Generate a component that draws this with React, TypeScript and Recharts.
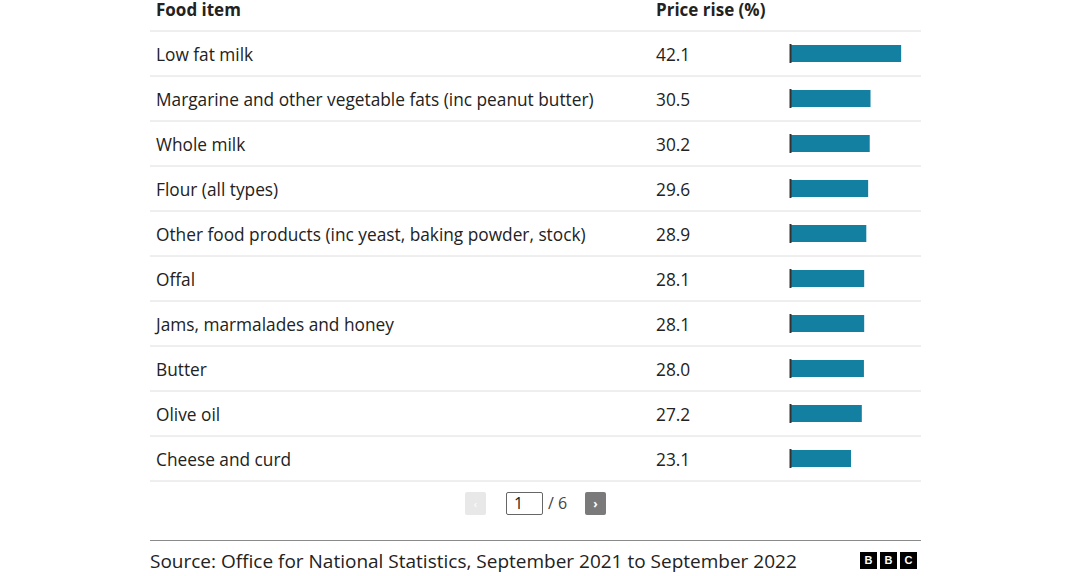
import { BarChart, Bar, XAxis, YAxis } from 'recharts'

const foodItems = [
  'Low fat milk',
  'Margarine and other vegetable fats (inc peanut butter)',
  'Whole milk',
  'Flour (all types)',
  'Other food products (inc yeast, baking powder, stock)',
  'Offal',
  'Jams, marmalades and honey',
  'Butter',
  'Olive oil',
  'Cheese and curd'
]
const priceRise = [42.1, 30.5, 30.2, 29.6, 28.9, 28.1, 28.1, 28.0, 27.2, 23.1]
const columnHeaders = ['Food item', 'Price rise (%)']
const currentPage = 1
const pageCount = 6
const sourceNote = 'Source: Office for National Statistics, September 2021 to September 2022'

const data = foodItems.map((item, i) => ({ item, rise: priceRise[i] }))

const FONT = '"Open Sans", sans-serif'
const TEXT = '#222222'
const BAR = '#1380a1'
const RULE = '#dedede'

// each bar also draws its own table row: rules, item name and value
function RowBar(props: any) {
  const { x, y, width, height, payload, index } = props
  const cy = y + height / 2
  const half = 22.5
  return (
    <g>
      <line x1={150} x2={921} y1={cy - half} y2={cy - half} stroke={RULE} strokeWidth={1} />
      {index === foodItems.length - 1 && (
        <line x1={150} x2={921} y1={cy + half} y2={cy + half} stroke={RULE} strokeWidth={1} />
      )}
      <text x={156} y={cy + 1} dy="0.35em" fontSize={17.3} fill={TEXT} fontFamily={FONT}>
        {payload.item}
      </text>
      <text x={656} y={cy + 1} dy="0.35em" fontSize={17.3} fill={TEXT} fontFamily={FONT}>
        {payload.rise.toFixed(1)}
      </text>
      <rect x={x} y={y} width={width} height={height} fill={BAR} />
      <line x1={x + 0.5} x2={x + 0.5} y1={y - 1} y2={y + height + 1} stroke="#333" strokeWidth={2} />
    </g>
  )
}

export default function App() {
  return (
    <div
      style={{
        position: 'absolute',
        left: 0,
        top: 0,
        width: 1080,
        height: 576,
        background: '#fff',
        fontFamily: FONT,
        color: TEXT
      }}
    >
      <div style={{ position: 'absolute', left: 156, top: -2, fontSize: 17, fontWeight: 700 }}>
        {columnHeaders[0]}
      </div>
      <div style={{ position: 'absolute', left: 656, top: -2, fontSize: 17, fontWeight: 700 }}>
        {columnHeaders[1]}
      </div>

      <BarChart
        width={1080}
        height={576}
        data={data}
        layout="vertical"
        margin={{ top: 31, bottom: 95, left: 790, right: 158 }}
        barCategoryGap={0}
      >
        <XAxis type="number" domain={[0, 50]} hide />
        <YAxis type="category" dataKey="item" hide />
        <Bar dataKey="rise" barSize={17} shape={<RowBar />} isAnimationActive={false} />
      </BarChart>

      {/* pagination */}
      <div
        style={{
          position: 'absolute',
          left: 465,
          top: 492,
          width: 21,
          height: 23,
          background: '#e8e8e8',
          borderRadius: 2,
          color: '#fff',
          fontSize: 11,
          textAlign: 'center',
          lineHeight: '23px'
        }}
      >
        ‹
      </div>
      <div
        style={{
          position: 'absolute',
          left: 506,
          top: 492,
          width: 37,
          height: 23,
          border: '1px solid #666',
          borderRadius: 2,
          fontSize: 16,
          lineHeight: '21px',
          paddingLeft: 7,
          boxSizing: 'border-box'
        }}
      >
        {currentPage}
      </div>
      <div style={{ position: 'absolute', left: 548, top: 492, fontSize: 16, lineHeight: '23px', color: '#444' }}>
        / {pageCount}
      </div>
      <div
        style={{
          position: 'absolute',
          left: 585,
          top: 492,
          width: 21,
          height: 23,
          background: '#7a7a7a',
          borderRadius: 2,
          color: '#fff',
          fontSize: 12,
          fontWeight: 700,
          textAlign: 'center',
          lineHeight: '23px'
        }}
      >
        ›
      </div>

      {/* footer */}
      <div style={{ position: 'absolute', left: 150, top: 540, width: 771, height: 1, background: '#8a8a8a' }} />
      <div style={{ position: 'absolute', left: 150, top: 548, fontSize: 19, lineHeight: '27px' }}>{sourceNote}</div>
      <div style={{ position: 'absolute', left: 860, top: 552, display: 'flex', gap: 3 }}>
        {['B', 'B', 'C'].map((ch, i) => (
          <div
            key={i}
            style={{
              width: 17,
              height: 17,
              background: '#000',
              color: '#fff',
              fontSize: 11,
              fontWeight: 700,
              textAlign: 'center',
              lineHeight: '17px',
              fontFamily: 'Arial, "Liberation Sans", sans-serif'
            }}
          >
            {ch}
          </div>
        ))}
      </div>
    </div>
  )
}
